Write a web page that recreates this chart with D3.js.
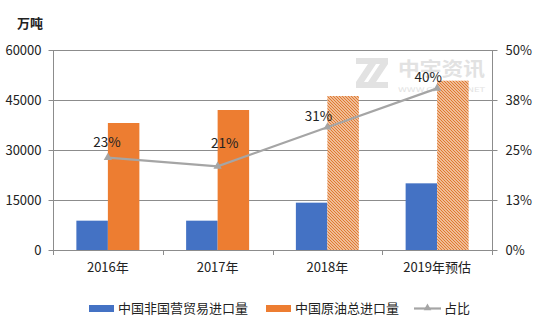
<!DOCTYPE html>
<html><head><meta charset="utf-8">
<script src="https://cdn.jsdelivr.net/npm/d3@7"></script>
<style>body{margin:0;background:#fff;}svg{display:block;font-family:"Noto Sans CJK SC","Microsoft YaHei",sans-serif;}</style>
</head><body>
<svg id="c" width="554" height="332"></svg>
<script>
const categories = ["2016年","2017年","2018年","2019年预估"];
const nonStateImports = [8800, 8800, 14200, 20000];
const totalImports = [38100, 42000, 46200, 50800];
const shareValues = [0.231, 0.209, 0.307, 0.404];
const leftTicks = [0, 15000, 30000, 45000, 60000];
const rightTicks = [0, 0.125, 0.25, 0.375, 0.5];
const rightTickLabels = ["0%","13%","25%","38%","50%"];
const seriesNames = ["中国非国营贸易进口量","中国原油总进口量","占比"];
const hatched = [false, false, true, true];

const svg = d3.select("#c");
const L = 53, R = 492, T = 50, B = 250;
const grey = "#8c8c8c";

const defs = svg.append("defs");
const pat = defs.append("pattern").attr("id","hatch").attr("patternUnits","userSpaceOnUse")
  .attr("width",3).attr("height",3);
pat.append("rect").attr("width",3).attr("height",3).attr("fill","#fff");
[-3,0,3].forEach(o=>{
  pat.append("line").attr("x1",-1+o).attr("y1",-1).attr("x2",4+o).attr("y2",4)
    .attr("stroke","#E07A30").attr("stroke-width",1.4);
});

const x = d3.scaleBand().domain(categories).range([L,R]).paddingInner(0.426).paddingOuter(0.213);
const xs = d3.scaleBand().domain([0,1]).range([0,x.bandwidth()]);
const y = d3.scaleLinear().domain([0,60000]).range([B,T]);
const y2 = d3.scaleLinear().domain([0,0.5]).range([B,T]);

// gridlines
svg.append("g").selectAll("line").data(leftTicks.slice(1)).join("line")
  .attr("x1",L).attr("x2",R).attr("y1",d=>y(d)+0.5).attr("y2",d=>y(d)+0.5)
  .attr("stroke",grey).attr("stroke-width",1);

// watermark (logo drawn as shapes, name as text)
const wm = svg.append("g").attr("opacity",0.6).attr("fill","#cfcfcf");
const zPath = (x0,w)=>`M${x0},58H${x0+w}V64L${x0+8},82H${x0+w}V88H${x0}V82L${x0+w-8},64H${x0}Z`;
wm.append("path").attr("d",zPath(356,20));
wm.append("path").attr("d",zPath(368,20));
wm.append("text").attr("x",398).attr("y",76).attr("font-size",19).attr("font-weight","bold")
  .attr("textLength",87).attr("lengthAdjust","spacingAndGlyphs").text("中宇资讯");
wm.append("text").attr("x",398).attr("y",92).attr("font-size",6.5).attr("font-family","DejaVu Sans")
  .attr("textLength",87).attr("lengthAdjust","spacingAndGlyphs").text("WWW.CHINAZY.NET");

// bars
const g = svg.append("g");
categories.forEach((c,i)=>{
  g.append("rect").attr("x",x(c)+xs(0)).attr("width",xs.bandwidth())
    .attr("y",y(nonStateImports[i])).attr("height",B-y(nonStateImports[i])).attr("fill","#4472C4");
  g.append("rect").attr("x",x(c)+xs(1)).attr("width",xs.bandwidth())
    .attr("y",y(totalImports[i])).attr("height",B-y(totalImports[i]))
    .attr("fill",hatched[i]?"url(#hatch)":"#ED7D31");
});

// axes
const la = svg.append("g").attr("transform",`translate(${L+0.5},0)`)
  .call(d3.axisLeft(y).tickValues(leftTicks).tickSize(5).tickPadding(7).tickFormat(d3.format("d")));
const ra = svg.append("g").attr("transform",`translate(${R+0.5},0)`)
  .call(d3.axisRight(y2).tickValues(rightTicks).tickSize(5).tickPadding(8).tickFormat((d,i)=>rightTickLabels[i]));
const ba = svg.append("g").attr("transform",`translate(0,${B+0.5})`)
  .call(d3.axisBottom(x).tickSize(0).tickPadding(12));
const bounds = [L, ...categories.map(c=>x(c)+x.bandwidth()+x.step()*x.paddingInner()/2)];
bounds[bounds.length-1] = R;
svg.append("g").selectAll("line").data(bounds).join("line")
  .attr("x1",d=>Math.round(d)+0.5).attr("x2",d=>Math.round(d)+0.5).attr("y1",B).attr("y2",B+5)
  .attr("stroke",grey);
[la,ra,ba].forEach(a=>{
  a.selectAll("path,line").attr("stroke",grey);
  a.selectAll("text").attr("font-size",13).attr("fill","#222").attr("font-family","\"Noto Sans CJK SC\",sans-serif");
});
ba.select(".domain").attr("d",`M${L},0H${R}`);
la.select(".domain").attr("d",`M0,${B}V${T}`);
ra.select(".domain").attr("d",`M0,${B}V${T}`);

// line
const cx = c=>x(c)+x.bandwidth()/2;
svg.append("path").datum(shareValues)
  .attr("d",d3.line().x((d,i)=>cx(categories[i])).y(d=>y2(d)))
  .attr("fill","none").attr("stroke","#A5A5A5").attr("stroke-width",2.2);
svg.append("g").selectAll("path").data(shareValues).join("path")
  .attr("transform",(d,i)=>`translate(${cx(categories[i])},${y2(d)})`)
  .attr("d",d3.symbol(d3.symbolTriangle,30)).attr("fill","#A5A5A5");
const labelOff = [[-1,-11],[7,-18],[-9,-6],[-9,-6]];
svg.append("g").selectAll("text").data(shareValues).join("text")
  .attr("x",(d,i)=>cx(categories[i])+labelOff[i][0]).attr("y",(d,i)=>y2(d)+labelOff[i][1])
  .attr("text-anchor","middle").attr("font-size",13.5).attr("fill","#222")
  .text(d=>Math.round(d*100)+"%");

// unit
svg.append("text").attr("x",17).attr("y",28).attr("font-size",13).attr("font-weight","bold").attr("fill","#222").text("万吨");

// legend
const lg = svg.append("g");
lg.append("rect").attr("x",89).attr("y",305).attr("width",25).attr("height",7).attr("fill","#4472C4");
lg.append("text").attr("x",118).attr("y",313).attr("font-size",13).attr("fill","#222").text(seriesNames[0]);
lg.append("rect").attr("x",266).attr("y",305).attr("width",25).attr("height",7).attr("fill","#ED7D31");
lg.append("text").attr("x",295).attr("y",313).attr("font-size",13).attr("fill","#222").text(seriesNames[1]);
lg.append("line").attr("x1",414).attr("x2",441).attr("y1",308.5).attr("y2",308.5).attr("stroke","#A5A5A5").attr("stroke-width",2.2);
lg.append("path").attr("transform","translate(427.5,308)").attr("d",d3.symbol(d3.symbolTriangle,25)).attr("fill","#A5A5A5");
lg.append("text").attr("x",444).attr("y",313).attr("font-size",13).attr("fill","#222").text(seriesNames[2]);
</script>
</body></html>
